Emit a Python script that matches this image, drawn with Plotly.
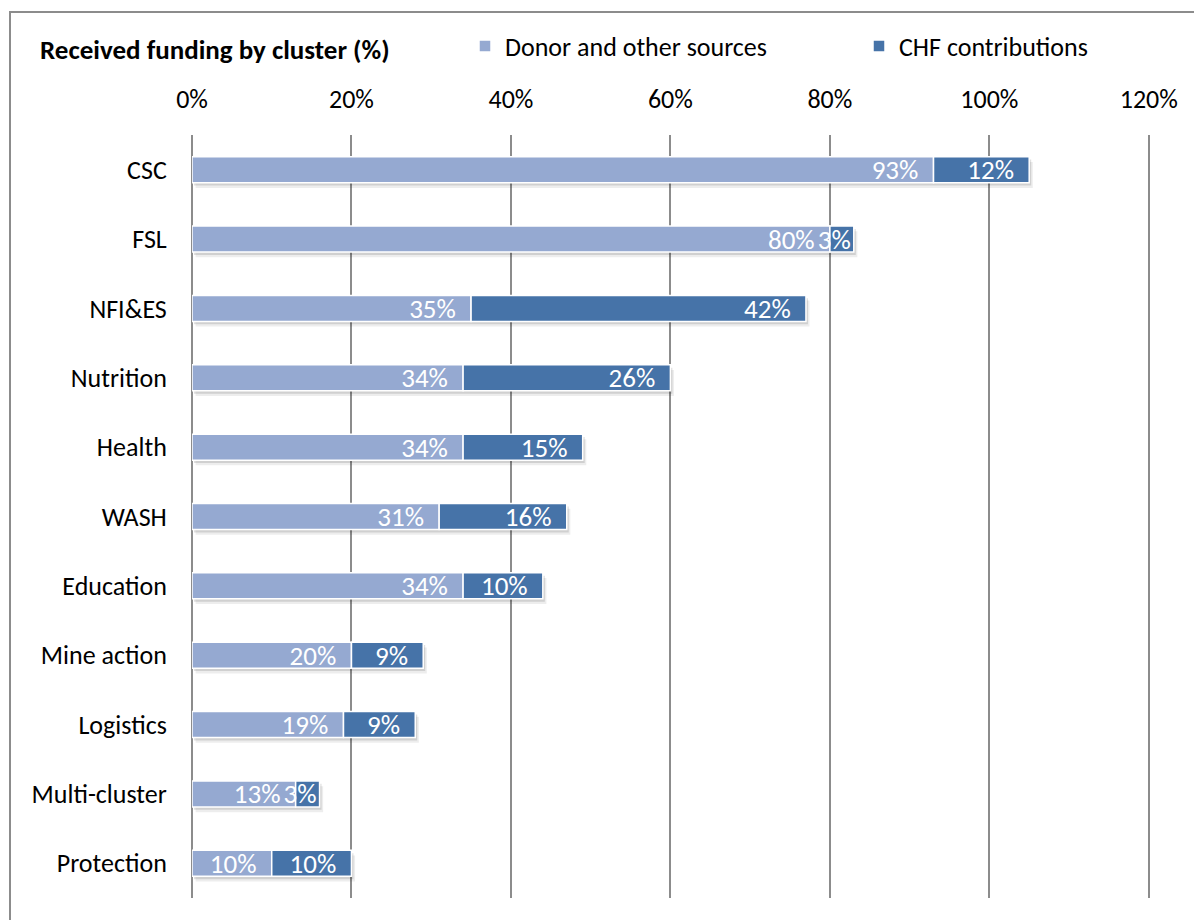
import plotly.graph_objects as go

# Clusters, top to bottom
clusters = ["CSC", "FSL", "NFI&ES", "Nutrition", "Health", "WASH", "Education",
            "Mine action", "Logistics", "Multi-cluster", "Protection"]
donor_pct = [93, 80, 35, 34, 34, 31, 34, 20, 19, 13, 10]
chf_pct = [12, 3, 42, 26, 15, 16, 10, 9, 9, 3, 10]
tick_vals = [0, 20, 40, 60, 80, 100, 120]
tick_text = ["0%", "20%", "40%", "60%", "80%", "100%", "120%"]

FONT = "Carlito, Lato, 'Open Sans', sans-serif"
LIGHT = "#95A9D1"
DARK = "#4673A8"
GRID = "#8C8C8C"
PAD = "\u00a0\u00a0"
BAR_W = 0.375

totals = [d + c for d, c in zip(donor_pct, chf_pct)]


def bar_labels(vals):
    # inside-end labels get a little right padding when the segment has room
    return [f"{v}%{PAD}" if v >= 5 else f"{v}%" for v in vals]


fig = go.Figure()

# soft drop shadow under each stacked bar
for shift, alpha in [(0.45, 0.07), (0.25, 0.12)]:
    fig.add_trace(go.Bar(
        y=clusters, x=totals, base=shift, orientation="h",
        width=BAR_W, offset=-BAR_W / 2 + shift / 6,
        marker=dict(color=f"rgba(0,0,0,{alpha})", line=dict(width=0)),
        showlegend=False, hoverinfo="skip",
    ))

fig.add_trace(go.Bar(
    name="Donor and other sources", y=clusters, x=donor_pct, base=0,
    orientation="h", width=BAR_W, offset=-BAR_W / 2,
    marker=dict(color=LIGHT, line=dict(color="white", width=1.5)),
    text=bar_labels(donor_pct),
    textposition="inside", insidetextanchor="end", textangle=0,
    textfont=dict(family=FONT, size=27, color="white"),
    legend="legend",
))
fig.add_trace(go.Bar(
    name="CHF contributions", y=clusters, x=chf_pct, base=donor_pct,
    orientation="h", width=BAR_W, offset=-BAR_W / 2,
    marker=dict(color=DARK, line=dict(color="white", width=1.5)),
    text=bar_labels(chf_pct),
    textposition="inside", insidetextanchor="end", textangle=0,
    textfont=dict(family=FONT, size=27, color="white"),
    legend="legend2",
))

legend_style = dict(orientation="h", xanchor="left", yanchor="middle",
                    y=1 + (135 - 46) / 763,
                    font=dict(family=FONT, size=26, color="#000000"),
                    bgcolor="rgba(0,0,0,0)", itemwidth=30)

fig.update_layout(
    width=1194, height=920,
    barmode="overlay",
    plot_bgcolor="white", paper_bgcolor="white",
    margin=dict(l=192, r=44, t=135, b=22),
    font=dict(family=FONT, size=26, color="#000000"),
    uniformtext=dict(minsize=27, mode="show"),
    title=dict(text="<b>Received funding by cluster (%)</b>",
               x=40 / 1194, xanchor="left", y=1 - 50 / 920, yanchor="middle",
               font=dict(family=FONT, size=27, color="#000000")),
    legend=dict(x=(465 - 192) / 958, **legend_style),
    legend2=dict(x=(859 - 192) / 958, **legend_style),
    xaxis=dict(side="top", range=[0, 120.15], tickvals=tick_vals, ticktext=tick_text,
               showgrid=True, gridcolor=GRID, gridwidth=1.5,
               zeroline=True, zerolinecolor=GRID, zerolinewidth=2,
               ticks="outside", ticklen=16, tickcolor="rgba(0,0,0,0)",
               tickfont=dict(size=26), fixedrange=True),
    yaxis=dict(autorange="reversed", showgrid=False,
               ticks="outside", ticklen=19, tickcolor="rgba(0,0,0,0)",
               tickfont=dict(size=26)),
    shapes=[dict(type="rect", xref="paper", yref="paper",
                 x0=(10 - 192) / 958, x1=(1210 - 192) / 958,
                 y0=(898 - 930) / 763, y1=(898 - 12) / 763,
                 line=dict(color=GRID, width=2), layer="below")],
)

fig.write_html("out.html")
